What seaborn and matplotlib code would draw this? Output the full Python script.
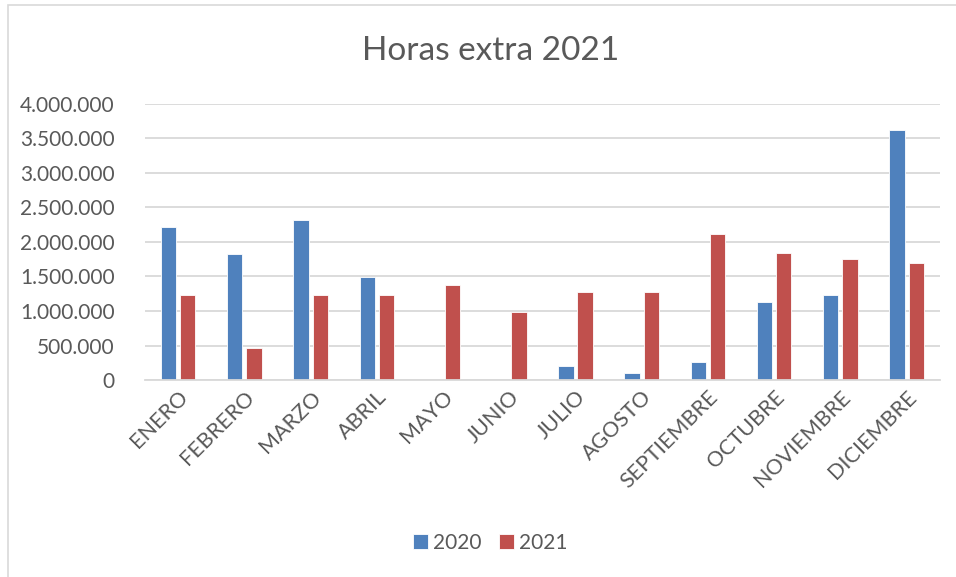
import pandas as pd
import matplotlib
matplotlib.use("Agg")
import matplotlib.pyplot as plt
import seaborn as sns
from matplotlib.ticker import FuncFormatter
from matplotlib.patches import Rectangle

# Horas extra por mes, 2020 vs 2021
meses = ['ENERO', 'FEBRERO', 'MARZO', 'ABRIL', 'MAYO', 'JUNIO', 'JULIO',
         'AGOSTO', 'SEPTIEMBRE', 'OCTUBRE', 'NOVIEMBRE', 'DICIEMBRE']
horas_2020 = [2213000, 1821000, 2319000, 1498000, 0, 0, 198000,
              101000, 266000, 1126000, 1227000, 3618000]
horas_2021 = [1227000, 469000, 1227000, 1227000, 1372000, 981000, 1275000,
              1275000, 2121000, 1845000, 1754000, 1696000]

data = pd.DataFrame({
    'Mes': meses * 2,
    'Horas': horas_2020 + horas_2021,
    'Año': ['2020'] * len(meses) + ['2021'] * len(meses),
})

sns.set_style('white')
plt.rcParams['font.family'] = ['Lato', 'DejaVu Sans']
gris = '#595959'

fig = plt.figure(figsize=(9.56, 5.77), dpi=100)
ax = fig.add_axes([0.1517, 0.3414, 0.8313, 0.4784])

sns.barplot(x='Mes', y='Horas', hue='Año', data=data, ax=ax,
            palette=['#4F81BD', '#C0504D'], width=0.58, gap=0.2,
            saturation=1, edgecolor='white', linewidth=0.6)

ax.set_ylim(0, 4000000)
ax.set_yticks(range(0, 4000001, 500000))
ax.yaxis.set_major_formatter(FuncFormatter(lambda v, p: f'{int(v):,}'.replace(',', '.')))
ax.grid(axis='y', color='#D9D9D9', linewidth=1.3)
ax.set_axisbelow(True)
for s in ['top', 'right', 'left']:
    ax.spines[s].set_visible(False)
ax.spines['bottom'].set_color('#D9D9D9')
ax.spines['bottom'].set_linewidth(1.3)
ax.set_xlim(-0.5, len(meses) - 0.5)

ax.set_xlabel('')
ax.set_ylabel('')
ax.tick_params(axis='both', length=0, colors=gris, labelsize=15)
ax.tick_params(axis='y', pad=22)
ax.tick_params(axis='x', pad=5)
plt.setp(ax.get_xticklabels(), rotation=45, ha='right', rotation_mode='anchor',
         fontsize=15.5)

fig.text(0.513, 0.912, 'Horas extra 2021', ha='center', va='center',
         fontsize=24, color=gris)

ax.legend(loc='center', bbox_to_anchor=(0.513, 0.059), bbox_transform=fig.transFigure,
          ncol=2, frameon=False, fontsize=15, labelcolor=gris,
          handlelength=0.7, handleheight=0.7, handletextpad=0.25, columnspacing=0.85)

fig.patches.append(Rectangle((8 / 956, -0.1), 1.2, 1 - 5 / 577 + 0.1,
                             transform=fig.transFigure, fill=False,
                             edgecolor='#D9D9D9', linewidth=1.2, figure=fig))

fig.savefig('out.png', dpi=100)
